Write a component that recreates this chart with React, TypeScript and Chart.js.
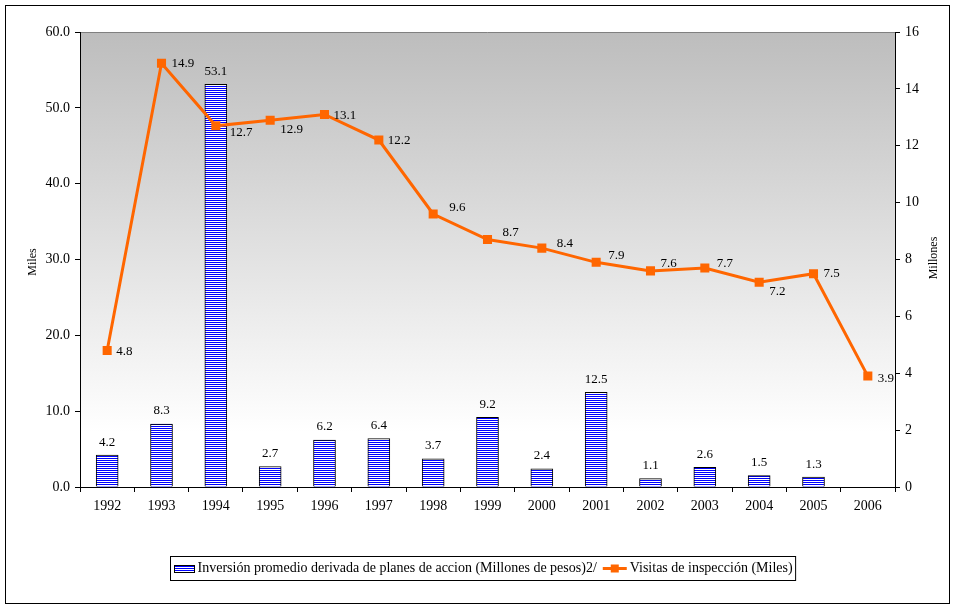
import { useEffect, useRef } from "react";
import { Chart, registerables } from "chart.js";

Chart.register(...registerables);

// ---- data ----
const years = ["1992", "1993", "1994", "1995", "1996", "1997", "1998", "1999", "2000", "2001", "2002", "2003", "2004", "2005", "2006"];
const inversion: (number | null)[] = [4.2, 8.3, 53.1, 2.7, 6.2, 6.4, 3.7, 9.2, 2.4, 12.5, 1.1, 2.6, 1.5, 1.3, null];
const visitas = [4.8, 14.9, 12.7, 12.9, 13.1, 12.2, 9.6, 8.7, 8.4, 7.9, 7.6, 7.7, 7.2, 7.5, 3.9];
const leftAxis = { min: 0, max: 60, step: 10 };
const rightAxis = { min: 0, max: 16, step: 2 };
const seriesNames = [
  "Inversión promedio derivada de planes de accion (Millones de pesos)2/",
  "Visitas de inspección (Miles)",
];
const axisTitles = ["Miles", "Millones"];

// ---- style ----
const FONT = "'Liberation Serif', serif";
const ORANGE = "#ff6600";
const BLUE = "#0000ff";
const lineLabelDx = [9, 10, 14, 10, 9, 9, 16, 15, 15, 12, 10, 12, 10, 10, 10];
const lineLabelDy = [1, 0, 7, 9, 1, 1, -6, -7, -5, -7, -7, -4, 9, 0, 2];

function makeStripePattern(ctx: CanvasRenderingContext2D) {
  const c = document.createElement("canvas");
  c.width = 4;
  c.height = 2;
  const g = c.getContext("2d")!;
  g.fillStyle = "#ffffff";
  g.fillRect(0, 0, 4, 2);
  g.fillStyle = BLUE;
  g.fillRect(0, 0, 4, 1);
  return ctx.createPattern(c, "repeat")!;
}

export default function App() {
  const ref = useRef<HTMLCanvasElement>(null);

  useEffect(() => {
    document.body.style.margin = "0";
    const canvas = ref.current!;
    const ctx0 = canvas.getContext("2d")!;
    const pattern = makeStripePattern(ctx0);

    const decor = {
      id: "decor",
      beforeDraw(chart: any) {
        const { ctx, chartArea: a, width, height } = chart;
        ctx.save();
        ctx.fillStyle = "#fff";
        ctx.fillRect(0, 0, width, height);
        const g = ctx.createLinearGradient(0, a.top, 0, a.bottom);
        g.addColorStop(0, "#bdbdbd");
        g.addColorStop(0.88, "#ffffff");
        g.addColorStop(1, "#ffffff");
        ctx.fillStyle = g;
        ctx.fillRect(a.left, a.top, a.right - a.left, a.bottom - a.top);
        ctx.strokeStyle = "#808080";
        ctx.lineWidth = 1;
        ctx.beginPath();
        ctx.moveTo(a.left, a.top + 0.5);
        ctx.lineTo(a.right, a.top + 0.5);
        ctx.stroke();
        ctx.strokeStyle = "#000";
        ctx.strokeRect(5.5, 5.5, 944, 598);
        ctx.restore();
      },
      afterDatasetsDraw(chart: any) {
        const { ctx } = chart;
        ctx.save();
        ctx.font = `13px ${FONT}`;
        ctx.fillStyle = "#000";
        // bar labels
        const barMeta = chart.getDatasetMeta(1);
        ctx.textAlign = "center";
        ctx.textBaseline = "middle";
        barMeta.data.forEach((el: any, i: number) => {
          const v = inversion[i];
          if (v == null) return;
          ctx.fillText(v.toFixed(1), el.x, el.y - 13);
        });
        // line labels
        const lineMeta = chart.getDatasetMeta(0);
        ctx.textAlign = "left";
        lineMeta.data.forEach((el: any, i: number) => {
          ctx.fillText(visitas[i].toFixed(1), el.x + lineLabelDx[i], el.y + lineLabelDy[i]);
        });
        ctx.restore();
      },
      afterDraw(chart: any) {
        const { ctx } = chart;
        ctx.save();
        ctx.font = `12px ${FONT}`;
        ctx.fillStyle = "#000";
        ctx.textAlign = "center";
        ctx.textBaseline = "middle";
        ctx.translate(33, 262);
        ctx.rotate(-Math.PI / 2);
        ctx.fillText(axisTitles[0], 0, 0);
        ctx.restore();
        ctx.save();
        ctx.font = `12px ${FONT}`;
        ctx.fillStyle = "#000";
        ctx.textAlign = "center";
        ctx.textBaseline = "middle";
        ctx.translate(934, 258);
        ctx.rotate(-Math.PI / 2);
        ctx.fillText(axisTitles[1], 0, 0);
        ctx.restore();

        // legend
        ctx.save();
        ctx.font = `14px ${FONT}`;
        const w1 = ctx.measureText(seriesNames[0]).width;
        const w2 = ctx.measureText(seriesNames[1]).width;
        const sw1 = 21, gap = 3, sw2 = 24, sep = 6, padL = 3, padR = 3;
        const total = padL + sw1 + gap + w1 + sep + sw2 + gap + w2 + padR;
        const cx = 483;
        const left = Math.round(cx - total / 2) + 0.5;
        const top = 556.5, h = 24;
        ctx.strokeStyle = "#000";
        ctx.lineWidth = 1;
        ctx.fillStyle = "#fff";
        ctx.fillRect(left, top, total, h);
        ctx.strokeRect(left, top, total, h);
        const my = top + h / 2;
        let x = left + padL;
        ctx.fillStyle = pattern;
        ctx.fillRect(Math.round(x), Math.round(my - 4), sw1, 8);
        ctx.strokeRect(Math.round(x) + 0.5, Math.round(my - 4) + 0.5, sw1 - 1, 7);
        x += sw1 + gap;
        ctx.fillStyle = "#000";
        ctx.textAlign = "left";
        ctx.textBaseline = "middle";
        ctx.fillText(seriesNames[0], x, my);
        x += w1 + sep;
        ctx.strokeStyle = ORANGE;
        ctx.lineWidth = 3;
        ctx.beginPath();
        ctx.moveTo(x, my);
        ctx.lineTo(x + sw2, my);
        ctx.stroke();
        ctx.fillStyle = ORANGE;
        ctx.fillRect(x + sw2 / 2 - 4, my - 4, 8, 8);
        x += sw2 + gap;
        ctx.fillStyle = "#000";
        ctx.fillText(seriesNames[1], x, my);
        ctx.restore();
      },
    };

    const tickFont = { family: FONT, size: 14 };

    const chart = new Chart(canvas, {
      type: "bar",
      data: {
        labels: years,
        datasets: [
          {
            type: "line",
            label: seriesNames[1],
            data: visitas,
            yAxisID: "y1",
            borderColor: ORANGE,
            backgroundColor: ORANGE,
            borderWidth: 3,
            pointStyle: "rect",
            pointRadius: 6.4,
            pointBorderWidth: 0,
            pointBackgroundColor: ORANGE,
            order: 0,
          } as any,
          {
            type: "bar",
            label: seriesNames[0],
            data: inversion,
            yAxisID: "y",
            backgroundColor: pattern as any,
            borderColor: "#000",
            borderWidth: 1,
            barThickness: 22,
            order: 1,
          } as any,
        ],
      },
      options: {
        responsive: false,
        animation: false,
        layout: { padding: { top: 32, left: 0, right: 0, bottom: 0 } },
        plugins: {
          legend: { display: false },
          tooltip: { enabled: false },
        },
        scales: {
          x: {
            offset: true,
            grid: {
              display: true,
              drawOnChartArea: false,
              drawTicks: true,
              tickLength: 5,
              tickColor: "#000",
              offset: true,
            },
            border: { color: "#000", width: 1 },
            ticks: { color: "#000", font: tickFont, padding: 6, maxRotation: 0, autoSkip: false },
            afterFit: (s: any) => {
              s.height = 122;
            },
          },
          y: {
            position: "left",
            min: leftAxis.min,
            max: leftAxis.max,
            grid: { drawOnChartArea: false, drawTicks: true, tickLength: 5, tickColor: "#000" },
            border: { color: "#000", width: 1 },
            ticks: {
              stepSize: leftAxis.step,
              color: "#000",
              font: tickFont,
              padding: 5,
              callback: (v: any) => Number(v).toFixed(1),
            },
            afterFit: (s: any) => {
              s.width = 80;
            },
          },
          y1: {
            position: "right",
            min: rightAxis.min,
            max: rightAxis.max,
            grid: { drawOnChartArea: false, drawTicks: true, tickLength: 5, tickColor: "#000" },
            border: { color: "#000", width: 1 },
            ticks: { stepSize: rightAxis.step, color: "#000", font: tickFont, padding: 5 },
            afterFit: (s: any) => {
              s.width = 61;
            },
          },
        },
      },
      plugins: [decor],
    });

    return () => chart.destroy();
  }, []);

  return (
    <div style={{ width: 956, height: 609 }}>
      <canvas ref={ref} width={956} height={609} style={{ width: 956, height: 609, display: "block" }} />
    </div>
  );
}
